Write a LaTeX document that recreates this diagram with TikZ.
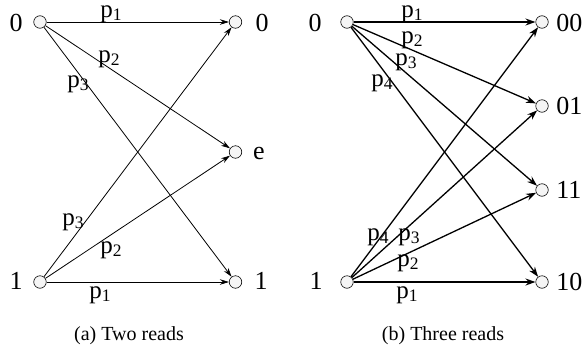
\documentclass[tikz,border=0pt]{standalone}
\usepackage{fontspec}
\setmainfont{Liberation Serif}
\usetikzlibrary{arrows.meta}

\begin{document}
\begin{tikzpicture}[x=1pt,y=-1pt,line width=0.8pt,
  st/.style={circle,draw,line width=0.6,fill=gray!8,minimum size=12.5pt,inner sep=0pt},
  sym/.style={font=\fontsize{26}{28}\selectfont,anchor=base,inner sep=0pt},
  pl/.style={font=\fontsize{25}{27}\selectfont,anchor=base west,inner sep=0pt},
  captext/.style={font=\fontsize{20}{22}\selectfont,anchor=base,inner sep=0pt},
  tra/.style={line width=0.8,-{Stealth[length=9pt,width=5.5pt]}},
  trb/.style={line width=1.3,-{Stealth[length=10pt,width=7pt]}}]
\useasboundingbox (0,0) rectangle (586,351);
% ================ (a) two reads ================
\node[st] (a0) at (40,22) {};
\node[st] (a1) at (40,282) {};
\node[st] (aout0) at (235.5,22) {};
\node[st] (aoute) at (235.5,152) {};
\node[st] (aout1) at (235.5,282) {};
\node[sym] (la0) at (16,31) {0};
\node[sym] (la1) at (16,289) {1};
\node[sym] (laout0) at (262,31) {0};
\node[sym] (laoute) at (259,159) {e};
\node[sym] (laout1) at (261,289) {1};
\draw[tra] (a0) -- (aout0);
\draw[tra] (a0) -- (aoute);
\draw[tra] (a0) -- (aout1);
\draw[tra] (a1) -- (aout0);
\draw[tra] (a1) -- (aoute);
\draw[tra] (a1) -- (aout1);
\node[pl] (pa01) at (100,17) {p\textsubscript{1}};
\node[pl] (pa02) at (98,62) {p\textsubscript{2}};
\node[pl] (pa03) at (67,87) {p\textsubscript{3}};
\node[pl] (pa13) at (62,225) {p\textsubscript{3}};
\node[pl] (pa12) at (100,253) {p\textsubscript{2}};
\node[pl] (pa11) at (89,298) {p\textsubscript{1}};
\node[captext] (capa) at (129,340) {(a) Two reads};
% ================ (b) three reads ================
\node[st] (b0) at (347,22) {};
\node[st] (b1) at (347,282) {};
\node[st] (bout00) at (542,22) {};
\node[st] (bout01) at (542,106) {};
\node[st] (bout11) at (542,190) {};
\node[st] (bout10) at (542,282) {};
\node[sym] (lb0) at (315,31) {0};
\node[sym] (lb1) at (316,289) {1};
\node[sym,anchor=base west] (lbout00) at (556,31) {00};
\node[sym,anchor=base west] (lbout01) at (556,114) {01};
\node[sym,anchor=base west] (lbout11) at (556,198) {11};
\node[sym,anchor=base west] (lbout10) at (556,290) {10};
\draw[trb] (b0) -- (bout00);
\draw[trb] (b0) -- (bout01);
\draw[trb] (b0) -- (bout11);
\draw[trb] (b0) -- (bout10);
\draw[trb] (b1) -- (bout00);
\draw[trb] (b1) -- (bout01);
\draw[trb] (b1) -- (bout11);
\draw[trb] (b1) -- (bout10);
\node[pl] (pb01) at (401,17) {p\textsubscript{1}};
\node[pl] (pb02) at (401,43) {p\textsubscript{2}};
\node[pl] (pb03) at (395,65) {p\textsubscript{3}};
\node[pl] (pb04) at (371,86) {p\textsubscript{4}};
\node[pl] (pb14) at (367,240) {p\textsubscript{4}};
\node[pl] (pb13) at (398,240) {p\textsubscript{3}};
\node[pl] (pb12) at (397,266) {p\textsubscript{2}};
\node[pl] (pb11) at (396,298) {p\textsubscript{1}};
\node[captext] (capb) at (443,340) {(b) Three reads};
\end{tikzpicture}
\end{document}
